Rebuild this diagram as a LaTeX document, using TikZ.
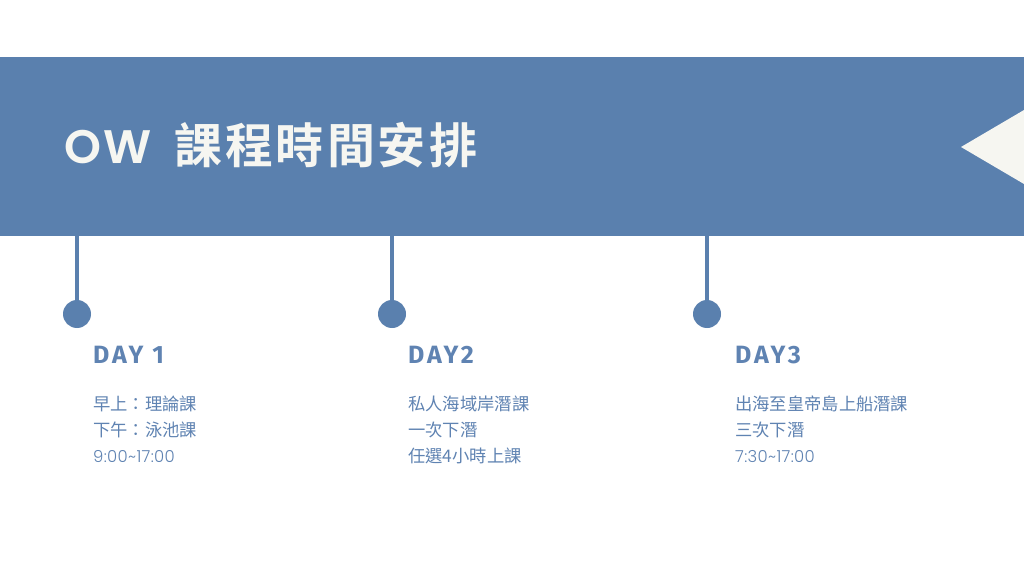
\documentclass[tikz,border=0pt]{standalone}
\usepackage{fontspec}
\setmainfont{Fira Sans}
\newfontfamily\cjk{Noto Sans CJK TC}
\newfontfamily\cjkbold{Noto Sans CJK TC Bold}
\newfontfamily\titlefont[LetterSpace=6]{Poppins SemiBold}
\newfontfamily\dayfont[LetterSpace=12]{Fira Sans Bold}
\newfontfamily\timefont[LetterSpace=2]{Poppins Light}
\definecolor{bannerblue}{HTML}{5A80AE}
\definecolor{offwhite}{HTML}{F6F6F1}
\definecolor{textblue}{HTML}{5F83B2}
\tikzset{
  x=1pt,y=-1pt,
  dot/.style={circle,fill=bannerblue,minimum size=28pt,inner sep=0pt},
  stem/.style={draw=bannerblue,line width=4pt},
  daylabel/.style={anchor=base west,inner sep=0pt,text=textblue,font=\fontsize{25}{25}\dayfont},
  bodyline/.style={anchor=base west,inner sep=0pt,text=textblue,font=\fontsize{17.3}{17.3}\cjk},
  timeline/.style={anchor=base west,inner sep=0pt,text=textblue,font=\fontsize{16.5}{16.5}\timefont},
}
\begin{document}
\begin{tikzpicture}
\useasboundingbox (0,0) rectangle (1024,569);
\fill[white] (0,0) rectangle (1024,569);
% banner
\fill[bannerblue] (0,57) rectangle (1024,236);
\fill[offwhite] (961,147) -- (1024,110) -- (1024,184) -- cycle;
\node[anchor=base west,inner sep=0pt,text=offwhite] (title) at (64,164)
  {\fontsize{47}{47}\titlefont OW\hspace{22pt}\fontsize{48}{48}\cjkbold 課\hspace{3pt}程\hspace{3pt}時\hspace{3pt}間\hspace{3pt}安\hspace{3pt}排};
% timeline stems
\coordinate (s1) at (77,236);
\coordinate (s2) at (392,236);
\coordinate (s3) at (707,236);
\node[dot] (d1) at (77,314) {};
\node[dot] (d2) at (392,314) {};
\node[dot] (d3) at (707,314) {};
\draw[stem] (s1) -- (d1.center);
\draw[stem] (s2) -- (d2.center);
\draw[stem] (s3) -- (d3.center);
% day 1
\node[daylabel] (day1) at (93,363) {DAY 1};
\node[bodyline] (a1) at (93,410) {早上：理論課};
\node[bodyline] (a2) at (93,436) {下午：泳池課};
\node[timeline] (a3) at (93,462) {9:00\char`~17:00};
% day 2
\node[daylabel] (day2) at (408,363) {DAY2};
\node[bodyline] (b1) at (408,410) {私人海域岸潛課};
\node[bodyline] (b2) at (408,436) {一次下潛};
\node[bodyline] (b3) at (408,462) {任選4小時上課};
% day 3
\node[daylabel] (day3) at (735,363) {DAY3};
\node[bodyline] (c1) at (735,410) {出海至皇帝島上船潛課};
\node[bodyline] (c2) at (735,436) {三次下潛};
\node[timeline] (c3) at (735,462) {7:30\char`~17:00};
\end{tikzpicture}
\end{document}
